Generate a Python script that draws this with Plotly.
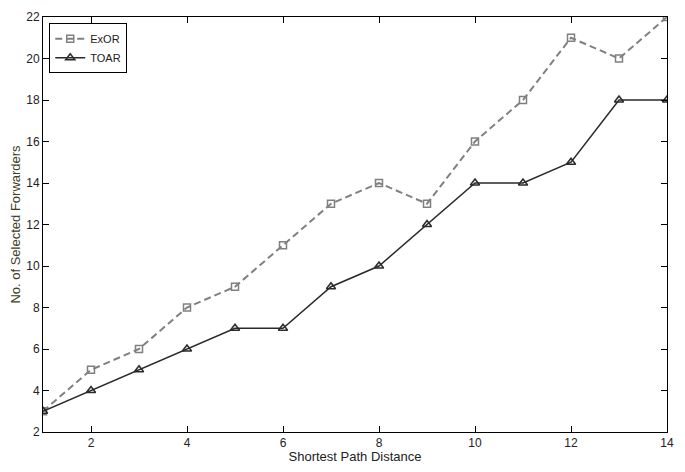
import plotly.graph_objects as go

x = list(range(1, 15))
exor = [3, 5, 6, 8, 9, 11, 13, 14, 13, 16, 18, 21, 20, 22]
toar = [3, 4, 5, 6, 7, 7, 9, 10, 12, 14, 14, 15, 18, 18]

fig = go.Figure()
fig.add_trace(go.Scatter(
    x=x, y=exor, name="ExOR", mode="lines+markers",
    line=dict(color="#808080", width=2, dash="7px,4px"),
    marker=dict(symbol="square-open", size=7, color="#808080", line=dict(width=1.5)),
))
fig.add_trace(go.Scatter(
    x=x, y=toar, name="TOAR", mode="lines+markers",
    line=dict(color="#2a2a2a", width=1.5),
    marker=dict(symbol="triangle-up-open", size=8, color="#2a2a2a", line=dict(width=1.5)),
))

axis_common = dict(
    showgrid=False, zeroline=False, showline=True, linecolor="black", linewidth=1,
    mirror="ticks", ticks="inside", ticklen=6, tickcolor="black", automargin=False,
    tickfont=dict(family="Liberation Sans, Arial", size=12, color="#222"),
)
fig.update_xaxes(range=[1, 14], tickvals=[2, 4, 6, 8, 10, 12, 14],
                 title=dict(text="Shortest Path Distance", standoff=4,
                            font=dict(family="Liberation Sans, Arial", size=13, color="#222")),
                 **axis_common)
fig.update_yaxes(range=[2, 22], tickvals=list(range(2, 23, 2)),
                 title=dict(text="No. of Selected Forwarders", standoff=6,
                            font=dict(family="Liberation Sans, Arial", size=13, color="#3d3d1f")),
                 **axis_common)

# page body has an 8px default margin, so the figure is sized/offset accordingly
fig.update_layout(
    width=669, height=456,
    margin=dict(l=35, r=10, t=9, b=32),
    plot_bgcolor="white", paper_bgcolor="white",
    legend=dict(x=0.01, y=0.985, xanchor="left", yanchor="top",
                bordercolor="black", borderwidth=1, bgcolor="white",
                font=dict(family="Liberation Sans, Arial", size=11, color="#222"),
                tracegroupgap=0, itemwidth=30),
    showlegend=True,
)

fig.write_html("out.html")
